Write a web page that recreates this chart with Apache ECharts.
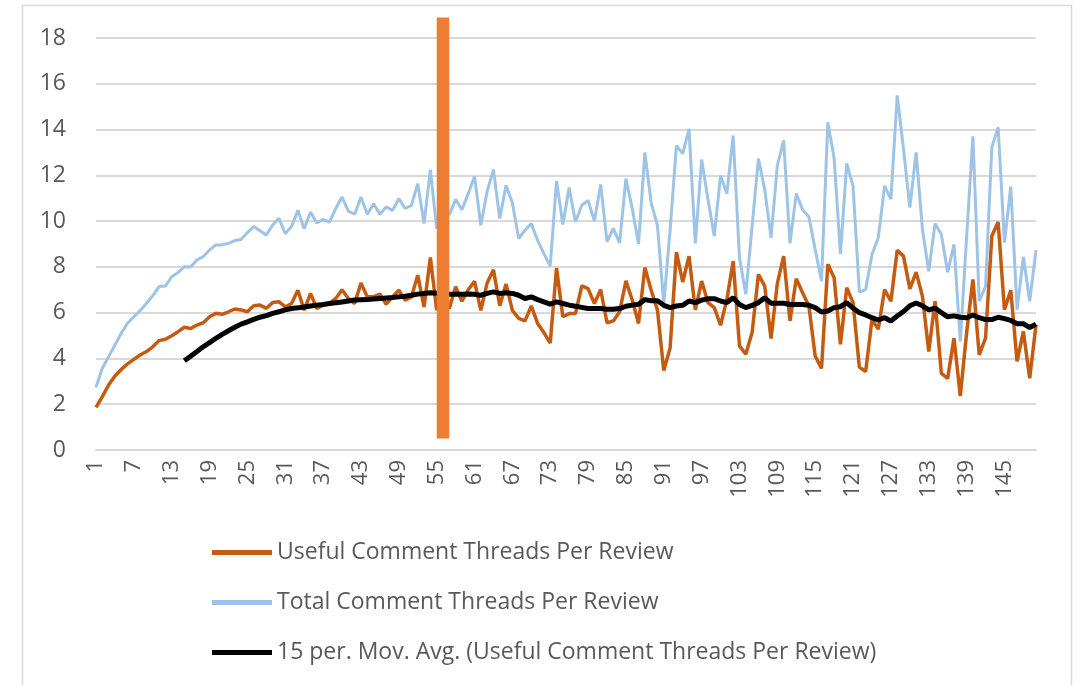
<!DOCTYPE html>
<html><head><meta charset="utf-8">
<script src="https://cdn.jsdelivr.net/npm/echarts@6/dist/echarts.min.js"></script>
<style>html,body{margin:0;padding:0;background:#fff}#c{width:1081px;height:685px}</style>
</head><body><div id="c"></div>
<script>
const categories = Array.from({length: 150}, (_, i) => String(i + 1));

const useful = [
1.86,2.33,2.84,3.23,3.52,3.76,3.96,4.15,4.30,4.51,
4.78,4.84,4.99,5.17,5.36,5.31,5.46,5.56,5.82,5.97,
5.93,6.04,6.16,6.12,6.04,6.30,6.33,6.19,6.44,6.48,
6.25,6.40,6.98,6.11,6.84,6.18,6.33,6.40,6.62,7.00,
6.62,6.40,7.30,6.69,6.69,6.81,6.37,6.69,6.98,6.55,
6.69,7.64,6.25,8.41,6.11,6.70,6.18,7.13,6.50,7.00,
7.37,6.10,7.30,7.87,6.30,7.25,6.10,5.75,5.64,6.30,
5.53,5.13,4.67,7.95,5.82,5.96,5.96,7.17,7.05,6.40,
7.01,5.56,5.64,6.04,7.39,6.55,5.53,7.97,6.98,6.11,
3.47,4.45,8.65,7.34,8.47,6.12,7.38,6.44,6.22,5.45,
6.58,8.25,4.55,4.18,5.13,7.67,7.16,4.87,7.28,8.47,
5.64,7.48,6.87,6.29,4.11,3.56,8.11,7.53,4.62,7.09,
6.44,3.62,3.43,5.69,5.28,7.01,6.50,8.73,8.47,7.04,
7.77,6.72,4.30,6.50,3.35,3.13,4.89,2.36,5.11,7.45,
4.16,4.89,9.35,9.96,6.13,6.98,3.87,5.18,3.13,5.47
];

const total = [
2.74,3.57,4.08,4.59,5.10,5.54,5.82,6.09,6.41,6.74,
7.14,7.16,7.57,7.75,8.01,8.00,8.30,8.45,8.74,8.96,
8.96,9.03,9.15,9.20,9.50,9.76,9.58,9.39,9.83,10.12,
9.45,9.77,10.47,9.67,10.40,9.92,10.07,9.96,10.55,11.05,
10.44,10.30,11.05,10.30,10.76,10.30,10.62,10.47,10.98,10.55,
10.69,11.64,9.89,12.25,9.67,10.80,10.27,10.95,10.50,11.20,
11.95,9.82,11.30,12.25,10.11,11.56,10.80,9.24,9.60,9.89,
9.16,8.58,8.03,11.75,9.85,11.47,9.96,10.69,10.90,10.00,
11.60,9.09,9.68,9.05,11.86,10.55,9.00,13.00,10.80,9.80,
6.40,9.60,13.30,12.95,14.03,9.03,12.69,10.95,9.35,11.99,
11.20,13.74,8.40,6.80,9.78,12.73,11.38,9.27,12.43,13.53,
9.03,11.20,10.50,10.19,8.76,7.38,14.32,12.76,8.57,12.52,
11.53,6.90,7.01,8.54,9.27,11.54,10.96,15.49,13.15,10.59,
13.00,9.64,7.81,9.90,9.42,7.77,8.98,4.74,9.30,13.70,
6.50,7.15,13.22,14.10,9.06,11.51,6.13,8.44,6.50,8.73
];

const movAvg = [
null,null,null,null,null,null,null,null,null,null,
null,null,null,null,3.90,4.10,4.30,4.51,4.69,4.88,
5.05,5.21,5.36,5.50,5.60,5.71,5.80,5.87,5.97,6.04,
6.12,6.18,6.21,6.25,6.29,6.33,6.36,6.40,6.43,6.47,
6.51,6.55,6.56,6.57,6.60,6.62,6.64,6.66,6.69,6.72,
6.76,6.81,6.84,6.87,6.85,6.83,6.81,6.81,6.81,6.82,
6.80,6.76,6.84,6.91,6.84,6.87,6.84,6.76,6.62,6.69,
6.57,6.47,6.37,6.47,6.40,6.33,6.28,6.23,6.18,6.18,
6.18,6.15,6.15,6.18,6.28,6.33,6.37,6.57,6.52,6.52,
6.32,6.22,6.29,6.32,6.51,6.44,6.55,6.61,6.61,6.51,
6.44,6.65,6.36,6.22,6.32,6.44,6.65,6.41,6.41,6.41,
6.36,6.36,6.36,6.32,6.22,6.03,6.07,6.22,6.26,6.44,
6.20,6.00,5.90,5.78,5.68,5.78,5.64,5.85,6.05,6.30,
6.42,6.30,6.12,6.20,6.00,5.82,5.86,5.80,5.78,5.90,
5.78,5.70,5.70,5.80,5.74,5.66,5.52,5.52,5.35,5.50
];

const seriesNames = [
  'Useful Comment Threads Per Review',
  'Total Comment Threads Per Review',
  '15 per. Mov. Avg. (Useful Comment Threads Per Review)'
];
const markerCategory = '56';
const markerSpan = [0.5, 18.9];

const FONT = 'Open Sans';
const TXT = '#595959';

const chart = echarts.init(document.getElementById('c'), null, {renderer: 'canvas'});
chart.setOption({
  animation: false,
  backgroundColor: '#ffffff',
  grid: {left: 96, right: 45, top: 38, bottom: 235},
  xAxis: {
    type: 'category', data: categories, boundaryGap: false,
    axisLine: {lineStyle: {color: '#D9D9D9', width: 2}},
    axisTick: {show: false},
    axisLabel: {interval: 5, rotate: 90, margin: 10, color: TXT, fontSize: 22, fontFamily: FONT},
    splitLine: {show: false}
  },
  yAxis: {
    type: 'value', min: 0, max: 18, interval: 2,
    axisLine: {show: false}, axisTick: {show: false},
    axisLabel: {margin: 30, color: TXT, fontSize: 23, fontFamily: FONT},
    splitLine: {lineStyle: {color: '#D9D9D9', width: 2}}
  },
  legend: {
    orient: 'vertical', left: 207, top: 536,
    icon: 'rect', itemWidth: 60, itemHeight: 5, itemGap: 27,
    textStyle: {color: TXT, fontSize: 23, fontFamily: FONT},
    data: seriesNames
  },
  graphic: [{
    type: 'rect', silent: true, z: -10,
    shape: {x: 22.5, y: 5.5, width: 1049, height: 700},
    style: {fill: 'none', stroke: '#D9D9D9', lineWidth: 1.5}
  }],
  series: [
    {name: seriesNames[0], type: 'line', data: useful, symbol: 'none',
     itemStyle: {color: '#C55A11'}, lineStyle: {color: '#C55A11', width: 3.5}},
    {name: seriesNames[1], type: 'line', data: total, symbol: 'none',
     itemStyle: {color: '#9DC3E6'}, lineStyle: {color: '#9DC3E6', width: 3}},
    {name: seriesNames[2], type: 'line', data: movAvg, symbol: 'none', connectNulls: false,
     itemStyle: {color: '#000000'}, lineStyle: {color: '#000000', width: 5}},
    {name: 'marker', type: 'custom', z: 10, clip: false,
     data: [[markerCategory, markerSpan[0], markerSpan[1]]],
     encode: {x: 0, y: [1, 2]},
     renderItem: function (params, api) {
       const p0 = api.coord([api.value(0), api.value(1)]);
       const p1 = api.coord([api.value(0), api.value(2)]);
       const w = 12.5;
       return {type: 'rect', shape: {x: p0[0] - w / 2, y: p1[1], width: w, height: p0[1] - p1[1]},
               style: {fill: '#ED7D31'}};
     }}
  ]
});
</script></body></html>
